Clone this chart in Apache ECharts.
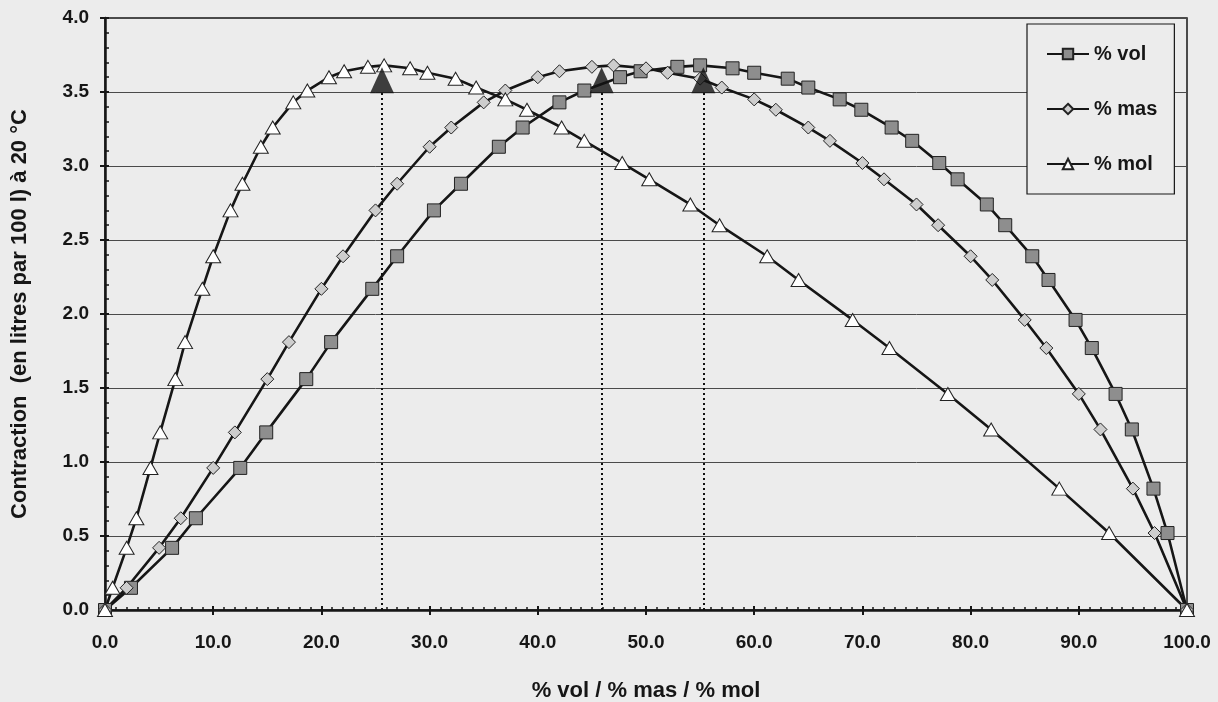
<!DOCTYPE html>
<html><head><meta charset="utf-8">
<script src="https://cdn.jsdelivr.net/npm/echarts@6/dist/echarts.min.js"></script>
<style>html,body{margin:0;padding:0;background:#ececec}#c{width:1218px;height:702px}</style>
</head><body><div id="c"></div>
<script>
// contraction values (litres per 100 l at 20 °C), shared by the three abscissa scales
const contraction = [0, 0.15, 0.42, 0.62, 0.96, 1.20, 1.56, 1.81, 2.17, 2.39, 2.70, 2.88, 3.13, 3.26, 3.43, 3.51, 3.60, 3.64, 3.67, 3.68, 3.66, 3.63, 3.59, 3.53, 3.45, 3.38, 3.26, 3.17, 3.02, 2.91, 2.74, 2.60, 2.39, 2.23, 1.96, 1.77, 1.46, 1.22, 0.82, 0.52, 0];
const pctVol = [0, 2.4, 6.2, 8.4, 12.5, 14.9, 18.6, 20.9, 24.7, 27.0, 30.4, 32.9, 36.4, 38.6, 42.0, 44.3, 47.6, 49.5, 52.9, 55.0, 58.0, 60.0, 63.1, 65.0, 67.9, 69.9, 72.7, 74.6, 77.1, 78.8, 81.5, 83.2, 85.7, 87.2, 89.7, 91.2, 93.4, 94.9, 96.9, 98.2, 100];
const pctMas = [0, 2, 5, 7, 10, 12, 15, 17, 20, 22, 25, 27, 30, 32, 35, 37, 40, 42, 45, 47, 50, 52, 55, 57, 60, 62, 65, 67, 70, 72, 75, 77, 80, 82, 85, 87, 90, 92, 95, 97, 100];
const pctMol = [0, 0.7, 2.0, 2.9, 4.2, 5.1, 6.5, 7.4, 9.0, 10.0, 11.6, 12.7, 14.4, 15.5, 17.4, 18.7, 20.7, 22.1, 24.3, 25.8, 28.2, 29.8, 32.4, 34.3, 37.0, 39.0, 42.2, 44.3, 47.8, 50.3, 54.1, 56.8, 61.2, 64.1, 69.1, 72.5, 77.9, 81.9, 88.2, 92.8, 100];
const peakX = [25.6, 45.9, 55.3];
const peakY = [3.58, 3.58, 3.58];
const dropTop = 3.5;
const seriesNames = ['% vol', '% mas', '% mol'];
const yTitle = 'Contraction  (en litres par 100 l) à 20 °C';
const xTitle = '% vol / % mas / % mol';

const FONT = 'Liberation Sans, Arial, sans-serif';
const INK = '#161616';
const pairs = xs => xs.map((x, i) => [x, contraction[i]]);

const chart = echarts.init(document.getElementById('c'));
const tickStyle = {color: INK, width: 2};
chart.setOption({
  animation: false,
  backgroundColor: '#ececec',
  textStyle: {fontFamily: FONT},
  grid: {left: 105, right: 31, top: 18, bottom: 92, show: true, borderColor: INK, borderWidth: 1.5,
         backgroundColor: 'transparent', containLabel: false, outerBoundsMode: 'none'},
  legend: {
    data: seriesNames, orient: 'vertical', left: 1027, top: 24,
    itemWidth: 42, itemHeight: 13, itemGap: 35,
    padding: [20, 17, 20, 19],
    backgroundColor: '#ececec', borderColor: INK, borderWidth: 1.2,
    textStyle: {fontFamily: FONT, fontWeight: 'bold', fontSize: 20, lineHeight: 20, color: INK}
  },
  xAxis: [{
    type: 'value', min: 0, max: 100, interval: 10,
    axisLabel: {formatter: v => v.toFixed(1), fontFamily: FONT, fontWeight: 'bold', fontSize: 19, color: INK, margin: 23},
    axisLine: {show: true, onZero: false, lineStyle: {color: INK, width: 2.5}},
    axisTick: {show: true, inside: true, length: 4, lineStyle: tickStyle},
    minorTick: {show: true, splitNumber: 10, length: 3, lineStyle: {color: INK, width: 1.5}},
    splitLine: {show: false},
    name: xTitle, nameLocation: 'middle', nameGap: 70,
    nameTextStyle: {fontFamily: FONT, fontWeight: 'bold', fontSize: 22, color: INK}
  }, {
    type: 'value', min: 0, max: 100, interval: 10, position: 'bottom',
    axisLabel: {show: false}, axisLine: {show: false},
    axisTick: {show: true, length: 5, lineStyle: tickStyle}, splitLine: {show: false}
  }],
  yAxis: [{
    type: 'value', min: 0, max: 4, interval: 0.5,
    axisLabel: {formatter: v => v.toFixed(1), fontFamily: FONT, fontWeight: 'bold', fontSize: 19, color: INK, margin: 16},
    axisLine: {show: true, onZero: false, lineStyle: {color: INK, width: 2.5}},
    axisTick: {show: true, inside: true, length: 4, lineStyle: tickStyle},
    minorTick: {show: true, splitNumber: 5, length: 4, lineStyle: {color: INK, width: 1.5}},
    splitLine: {show: true, lineStyle: {color: '#4a4a4a', width: 1}},
    name: yTitle, nameLocation: 'middle', nameGap: 74,
    nameTextStyle: {fontFamily: FONT, fontWeight: 'bold', fontSize: 22, color: INK}
  }, {
    type: 'value', min: 0, max: 4, interval: 0.5, position: 'left',
    axisLabel: {show: false}, axisLine: {show: false},
    axisTick: {show: true, length: 5, lineStyle: tickStyle}, splitLine: {show: false}
  }],
  series: [
    {name: seriesNames[0], type: 'line', data: pairs(pctVol), symbol: 'rect', symbolSize: 13,
     lineStyle: {color: INK, width: 2.6}, itemStyle: {color: '#8e8e8e', borderColor: '#222', borderWidth: 1}, z: 3},
    {name: seriesNames[1], type: 'line', data: pairs(pctMas), symbol: 'diamond', symbolSize: 13,
     lineStyle: {color: INK, width: 2.6}, itemStyle: {color: '#cdcdcd', borderColor: '#222', borderWidth: 1}, z: 3},
    {name: seriesNames[2], type: 'line', data: pairs(pctMol), symbol: 'triangle', symbolSize: [15, 13],
     lineStyle: {color: INK, width: 2.6}, itemStyle: {color: '#ffffff', borderColor: '#222', borderWidth: 1}, z: 3},
    {name: 'max', type: 'scatter', data: peakX.map((x, i) => [x, peakY[i]]), symbol: 'triangle', symbolSize: [24, 26],
     itemStyle: {color: '#111'}, z: 5, silent: true,
     markLine: {silent: true, symbol: ['none', 'none'], label: {show: false},
       lineStyle: {color: '#111', type: [2, 3], width: 2},
       data: peakX.map(x => [{coord: [x, 0]}, {coord: [x, dropTop]}])}}
  ]
});
</script></body></html>
